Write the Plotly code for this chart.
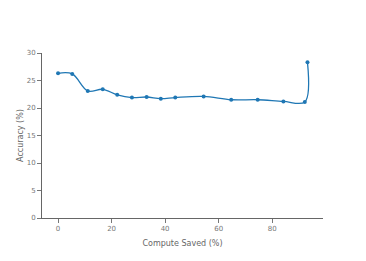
import plotly.graph_objects as go

compute_saved = [0, 5.3, 11.1, 16.7, 22.1, 27.6, 33.1, 38.4, 43.8, 54.4, 64.7, 74.6, 84.2, 92.2, 93.2]
accuracy = [26.3, 26.2, 23.1, 23.4, 22.4, 21.9, 22.0, 21.7, 21.9, 22.1, 21.5, 21.5, 21.2, 21.1, 28.3]

fig = go.Figure(go.Scatter(
    x=compute_saved, y=accuracy, mode="lines+markers",
    line=dict(color="#1f77b4", width=1.3, shape="spline"),
    marker=dict(color="#1f77b4", size=4),
))
axis_common = dict(showgrid=False, zeroline=False, showline=True, linecolor="#666", linewidth=1,
                   ticks="outside", ticklen=4, tickcolor="#777", automargin=False,
                   tickfont=dict(size=7, color="#777"))
fig.update_layout(
    width=366, height=261, margin=dict(l=34, r=51, t=45, b=51),
    paper_bgcolor="white", plot_bgcolor="white",
    font=dict(family="DejaVu Sans", size=8, color="#666"),
    showlegend=False,
    xaxis=dict(title=dict(text="Compute Saved (%)", font=dict(size=8, color="#666"), standoff=7), range=[-6, 99],
               tickvals=[0, 20, 40, 60, 80], **axis_common),
    yaxis=dict(title=dict(text="Accuracy (%)", font=dict(size=8, color="#666"), standoff=1), range=[0, 30],
               tickvals=[0, 5, 10, 15, 20, 25, 30], **axis_common),
)
fig.write_html("out.html")
